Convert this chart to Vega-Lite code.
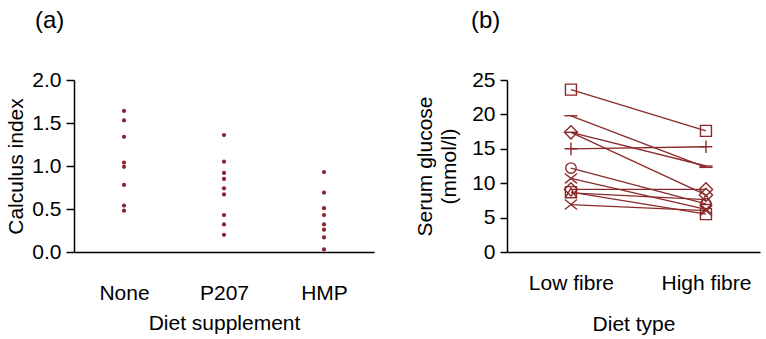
{
  "$schema": "https://vega.github.io/schema/vega-lite/v6.json",
  "padding": {"left": 5, "right": 3, "top": 9, "bottom": 5},
  "spacing": 133,
  "bounds": "flush",
  "config": {
    "font": "Liberation Sans",
    "view": {"stroke": null},
    "axis": {"grid": false, "domainColor": "#000000", "domainWidth": 1.5, "tickColor": "#000000", "tickWidth": 1.5, "labelColor": "#000000", "titleColor": "#000000", "labelFontSize": 21, "titleFontSize": 21, "titleFontWeight": "normal", "labelFont": "Liberation Sans", "titleFont": "Liberation Sans"},
    "title": {"fontSize": 24, "fontWeight": "normal", "anchor": "start", "frame": "group", "font": "Liberation Sans", "color": "#000000"}
  },
  "datasets": {
    "a": [
      {"supplement": "None", "index": 1.64},
      {"supplement": "None", "index": 1.53},
      {"supplement": "None", "index": 1.34},
      {"supplement": "None", "index": 1.04},
      {"supplement": "None", "index": 0.99},
      {"supplement": "None", "index": 0.78},
      {"supplement": "None", "index": 0.54},
      {"supplement": "None", "index": 0.48},
      {"supplement": "P207", "index": 1.36},
      {"supplement": "P207", "index": 1.05},
      {"supplement": "P207", "index": 0.92},
      {"supplement": "P207", "index": 0.85},
      {"supplement": "P207", "index": 0.74},
      {"supplement": "P207", "index": 0.67},
      {"supplement": "P207", "index": 0.43},
      {"supplement": "P207", "index": 0.32},
      {"supplement": "P207", "index": 0.2},
      {"supplement": "HMP", "index": 0.93},
      {"supplement": "HMP", "index": 0.69},
      {"supplement": "HMP", "index": 0.51},
      {"supplement": "HMP", "index": 0.43},
      {"supplement": "HMP", "index": 0.32},
      {"supplement": "HMP", "index": 0.26},
      {"supplement": "HMP", "index": 0.17},
      {"supplement": "HMP", "index": 0.03}
    ],
    "b": [
      {"id": 1, "marker": "square", "diet": "Low fibre", "glucose": 23.6},
      {"id": 1, "marker": "square", "diet": "High fibre", "glucose": 17.6},
      {"id": 2, "marker": "dash", "diet": "Low fibre", "glucose": 19.8},
      {"id": 2, "marker": "dash", "diet": "High fibre", "glucose": 12.3},
      {"id": 3, "marker": "dash", "diet": "Low fibre", "glucose": 17.4},
      {"id": 3, "marker": "dash", "diet": "High fibre", "glucose": 12.5},
      {"id": 4, "marker": "diamond", "diet": "Low fibre", "glucose": 17.4},
      {"id": 4, "marker": "diamond", "diet": "High fibre", "glucose": 8.3},
      {"id": 5, "marker": "plus", "diet": "Low fibre", "glucose": 15.0},
      {"id": 5, "marker": "plus", "diet": "High fibre", "glucose": 15.3},
      {"id": 6, "marker": "circle", "diet": "Low fibre", "glucose": 12.2},
      {"id": 6, "marker": "circle", "diet": "High fibre", "glucose": 7.0},
      {"id": 7, "marker": "x", "diet": "Low fibre", "glucose": 10.7},
      {"id": 7, "marker": "x", "diet": "High fibre", "glucose": 6.2},
      {"id": 8, "marker": "diamond", "diet": "Low fibre", "glucose": 9.1},
      {"id": 8, "marker": "diamond", "diet": "High fibre", "glucose": 9.1},
      {"id": 9, "marker": "square", "diet": "Low fibre", "glucose": 8.7},
      {"id": 9, "marker": "square", "diet": "High fibre", "glucose": 5.5},
      {"id": 10, "marker": "triangle", "diet": "Low fibre", "glucose": 8.6},
      {"id": 10, "marker": "triangle", "diet": "High fibre", "glucose": 7.6},
      {"id": 11, "marker": "x", "diet": "Low fibre", "glucose": 6.9},
      {"id": 11, "marker": "x", "diet": "High fibre", "glucose": 6.0}
    ]
  },
  "hconcat": [
    {
      "width": 300,
      "height": 172,
      "title": {"text": "(a)", "dx": -39, "offset": 36},
      "data": {"name": "a"},
      "mark": {"type": "circle", "size": 18, "color": "#8b2530", "opacity": 1},
      "encoding": {
        "x": {"field": "supplement", "type": "nominal", "sort": ["None", "P207", "HMP"], "scale": {"type": "point", "padding": 0.5},
              "axis": {"title": "Diet supplement", "labelAngle": 0, "ticks": false, "tickSize": 0, "labelPadding": 30, "titlePadding": 9}},
        "y": {"field": "index", "type": "quantitative", "scale": {"domain": [0, 2], "nice": false},
              "axis": {"title": "Calculus index", "values": [0, 0.5, 1, 1.5, 2], "format": ".1f", "tickSize": 8, "labelPadding": 5, "titlePadding": 5}}
      }
    },
    {
      "width": 253,
      "height": 172,
      "title": {"text": "(b)", "dx": -36, "offset": 36},
      "data": {"name": "b"},
      "encoding": {
        "x": {"field": "diet", "type": "nominal", "sort": ["Low fibre", "High fibre"], "scale": {"type": "point", "padding": 0.437, "align": 0.542},
              "axis": {"title": "Diet type", "labelAngle": 0, "ticks": false, "tickSize": 0, "labelPadding": 20, "titlePadding": 20}},
        "y": {"field": "glucose", "type": "quantitative", "scale": {"domain": [0, 25], "nice": false},
              "axis": {"title": ["Serum glucose", "(mmol/l)"], "values": [0, 5, 10, 15, 20, 25], "tickSize": 7, "labelPadding": 5, "titlePadding": 12, "titleLineHeight": 24}}
      },
      "layer": [
        {
          "mark": {"type": "line", "color": "#8b2a2a", "strokeWidth": 1.3},
          "encoding": {"detail": {"field": "id", "type": "nominal"}}
        },
        {
          "mark": {"type": "point", "filled": false, "color": "#8b2a2a", "strokeWidth": 1.4, "opacity": 1, "size": 121},
          "encoding": {
            "shape": {"field": "marker", "type": "nominal", "legend": null,
                      "scale": {"domain": ["square", "dash", "diamond", "plus", "circle", "x", "triangle"],
                                "range": ["square", "M-1.2,0H1.2", "M0,-1.2L1.2,0L0,1.2L-1.2,0Z", "M-1.15,0H1.15M0,-1.15V1.15", "M0.95,0A0.95,0.95,0,1,1,-0.95,0A0.95,0.95,0,1,1,0.95,0", "M-1.1,-0.9L1.1,0.9M-1.1,0.9L1.1,-0.9", "triangle-up"]}}
          }
        }
      ]
    }
  ]
}
